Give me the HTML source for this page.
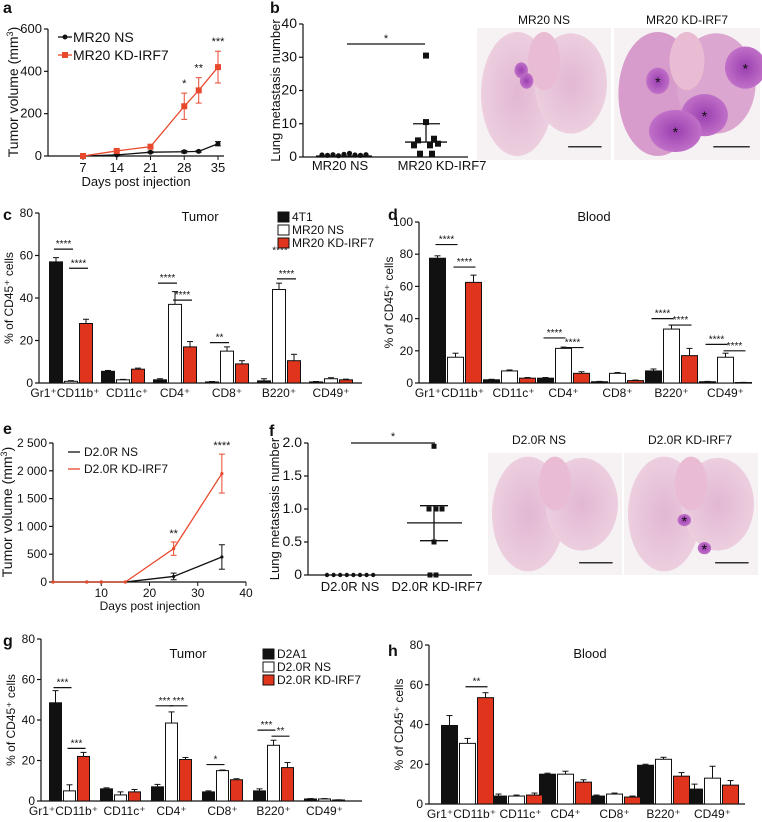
<!DOCTYPE html>
<html><head><meta charset="utf-8"><style>
html,body{margin:0;padding:0;background:#fff;}
svg{display:block;font-family:"Liberation Sans",Arial,sans-serif;}
</style></head><body>
<svg id="fig" width="762" height="822" viewBox="0 0 762 822" xmlns="http://www.w3.org/2000/svg">
<defs>
<radialGradient id="lungg" cx="50%" cy="50%" r="60%"><stop offset="0" stop-color="#e2b7d2"/><stop offset="1" stop-color="#eed3e2"/></radialGradient>
<radialGradient id="tum" cx="50%" cy="50%" r="50%"><stop offset="0" stop-color="#9b3fb0"/><stop offset="1" stop-color="#c070c8"/></radialGradient>
</defs>
<g id="root"></g>
</svg>
<script>
// ===== data =====
const aDays=[7,14,21,28,31,35];
const aNS=[0,5,18,20,22,58];
const aNSerr=[1,3,4,6,4,10];
const aKD=[0,24,44,235,310,420];
const aKDerr=[2,4,6,62,60,75];
const aStars=['','','','*','**','***'];
const bNS=[0.3,0.2,0.4,0.1,0.5,0.8,0.3,0.2,0.4];
const bKD=[30.5,10.5,5,5.5,3.5,3.5,1,1,4];
const cats=['Gr1\u207aCD11b\u207a','CD11c\u207a','CD4\u207a','CD8\u207a','B220\u207a','CD49\u207a'];
const cBlack=[57,5.5,1.5,0.5,1,0.5], cBlackErr=[2,0.4,0.5,0.2,1,0.2];
const cWhite=[0.8,1.5,37,15,44,2], cWhiteErr=[0.3,0.2,6,2,3,0.5];
const cRed=[28,6.5,17,9,10.5,1.5], cRedErr=[2,0.5,2.5,1.5,3,0.3];
const dBlack=[77.5,2,3,0.8,7.5,0.8], dBlackErr=[1.5,0.3,0.4,0.2,1.2,0.2];
const dWhite=[16,7.5,21.5,6,33.5,16], dWhiteErr=[2.5,0.6,0.8,0.5,2.5,2.5];
const dRed=[62.5,3,6,1.5,17,0.3], dRedErr=[4.5,0.4,1,0.3,4.5,0.1];
const eDays=[0,7,10,15,25,35];
const eNS=[0,0,0,0,100,450], eNSerr=[0,0,0,0,60,220];
const eKD=[0,0,0,0,600,1950], eKDerr=[0,0,0,0,120,350];
const fNS=[0,0,0,0,0,0,0,0];
const fKD=[1.95,1,1,1,0.5,0,0];
const gBlack=[48.5,6,7,4.5,5,1], gBlackErr=[6,0.5,1.2,0.5,1,0.2];
const gWhite=[5,3,38.5,15,27.5,1], gWhiteErr=[3,1.5,5.5,0.3,2.5,0.2];
const gRed=[22,4.5,20.5,10.5,16.5,0.5], gRedErr=[2,1.2,1,0.5,2.5,0.1];
const hBlack=[39.5,4,15,4,19.5,7.5], hBlackErr=[5,1,0.5,0.5,0.5,2.5];
const hWhite=[30.5,4,15,5,22.5,13], hWhiteErr=[2.5,0.5,1.5,0.5,1,6];
const hRed=[53.5,4.5,11,3.5,14,9.5], hRedErr=[2.5,1,1.2,0.5,1.8,2.3];
const cSig=[[0,0,1,63,'****'],[0,1,2,54,'****'],[2,0,1,47,'****'],[2,1,2,39,'****'],[3,0,1,19,'**'],[4,1,2,49,'****']];
const dSig=[[0,0,1,86,'****'],[0,1,2,72,'****'],[2,0,1,28,'****'],[2,1,2,22,'****'],[4,0,1,40,'****'],[4,1,2,36,'****'],[5,0,1,24,'****'],[5,1,2,20,'****']];
const gSig=[[0,0,1,56,'***'],[0,1,2,26,'***'],[2,0,1,47,'***'],[2,1,2,47,'***'],[3,0,1,18,'*'],[4,0,1,35,'***'],[4,1,2,32,'**']];
const hSig=[[0,1,2,59,'**']];

const NS='http://www.w3.org/2000/svg';
const root=document.getElementById('root');
const RED='#e0341c', LRED='#e8492d';
function el(tag,attrs,parent,text){const e=document.createElementNS(NS,tag);for(const k in attrs)e.setAttribute(k,attrs[k]);if(text!==undefined)e.textContent=text;(parent||root).appendChild(e);return e;}
function lin(d0,d1,r0,r1){return v=>r0+(v-d0)/(d1-d0)*(r1-r0);}
function txt(x,y,s,size,anchor,parent,extra){const t=el('text',Object.assign({x:x,y:y,'font-size':size,'text-anchor':anchor||'middle',fill:'#111'},extra||{}),parent,s);return t;}
function panelLabel(x,y,s){const t=txt(x,y,s,16,'start',root,{'font-weight':'bold'});}

function yAxis(g,x,y0,y1,ticks,sy,label,lx,fs,tfs){
  el('line',{x1:x,x2:x,y1:y0,y2:y1,stroke:'#111','stroke-width':1.2},g);
  ticks.forEach(t=>{const y=sy(t.v);el('line',{x1:x-4,x2:x,y1:y,y2:y,stroke:'#111','stroke-width':1.2},g);txt(x-6,y+4,t.l,fs||12,'end',g);});
  if(label){const yt=txt(lx,(y0+y1)/2,label,tfs||fs||12,'middle',g,{transform:'rotate(-90 '+lx+' '+((y0+y1)/2)+')'});
  }
}

// ===== panel a =====
(function(){
  const g=el('g',{});
  panelLabel(3,13,'a');
  const sx=lin(7,35,83,218), sy=lin(0,600,156,29);
  yAxis(g,48,156,29,[0,200,400,600].map(v=>({v:v,l:String(v)})),sy,'',0,13);
  const yl=txt(18,92,'Tumor volume (mm',14,'middle',g,{transform:'rotate(-90 18 92)'});
  el('tspan',{'font-size':9,dy:-5},yl,'3');el('tspan',{dy:5},yl,')');
  el('line',{x1:48,x2:224,y1:156,y2:156,stroke:'#111','stroke-width':1.2},g);
  [7,14,21,28,35].forEach(d=>{el('line',{x1:sx(d),x2:sx(d),y1:156,y2:160,stroke:'#111'},g);txt(sx(d),172,String(d),13,'middle',g);});
  txt(136,186,'Days post injection',13,'middle',g);
  function series(vals,errs,col,square,nm){
    let p='';vals.forEach((v,i)=>{p+=(i?'L':'M')+sx(aDays[i])+' '+sy(v);});
    const l=el('path',{d:p,fill:'none',stroke:col,'stroke-width':1.3},g);
    vals.forEach((v,i)=>{const x=sx(aDays[i]);
      if(errs[i]>2){el('line',{x1:x,x2:x,y1:sy(v-errs[i]),y2:sy(v+errs[i]),stroke:col},g);[v-errs[i],v+errs[i]].forEach(e=>el('line',{x1:x-3,x2:x+3,y1:sy(e),y2:sy(e),stroke:col},g));}
      const m=square?el('rect',{x:x-3,y:sy(v)-3,width:6,height:6,fill:col},g):el('circle',{cx:x,cy:sy(v),r:2.5,fill:col},g);
      });
  }
  series(aNS,aNSerr,'#111',false,'mr20-ns');
  series(aKD,aKDerr,LRED,true,'mr20-kd-irf7');
  aStars.forEach((s,i)=>{if(s)txt(sx(aDays[i]),sy(aKD[i]+aKDerr[i])-6,s,11,'middle',g);});
  const lg=el('g',{},g);
  el('line',{x1:58,x2:72,y1:37,y2:37,stroke:'#111','stroke-width':1.3},lg);el('circle',{cx:65,cy:37,r:2.5,fill:'#111'},lg);txt(73,42,'MR20 NS',14,'start',lg);
  el('line',{x1:58,x2:72,y1:55,y2:55,stroke:LRED,'stroke-width':1.3},lg);el('rect',{x:62,y:52,width:6,height:6,fill:LRED},lg);txt(73,60,'MR20 KD-IRF7',14,'start',lg);
})();

// ===== panel b =====
(function(){
  const g=el('g',{});
  panelLabel(270,13,'b');
  const sy=lin(0,40,157,24);
  yAxis(g,303,157,24,[0,10,20,30,40].map(v=>({v:v,l:String(v)})),sy,'Lung metastasis number',280,14,13);
  el('line',{x1:303,x2:468,y1:157,y2:157,stroke:'#111','stroke-width':1.2},g);
  txt(340,170,'MR20 NS',13,'middle',g);txt(442,170,'MR20 KD-IRF7',13,'middle',g);
  bNS.forEach((v,i)=>{const c=el('circle',{cx:322+i*5.5,cy:sy(v)-1,r:2.6,fill:'#111'},g);});
  const offs=[0,0,-8,8,-12,4,-6,6,12];
  bKD.forEach((v,i)=>{const x=426+offs[i];const r=el('rect',{x:x-3,y:sy(v)-3,width:6,height:6,fill:'#111'},g);});
  el('line',{x1:405,x2:447,y1:sy(4.5),y2:sy(4.5),stroke:'#111','stroke-width':1.3},g);
  el('line',{x1:426,x2:426,y1:sy(4.5),y2:sy(10),stroke:'#111','stroke-width':1.3},g);
  el('line',{x1:413,x2:440,y1:sy(10),y2:sy(10),stroke:'#111','stroke-width':1.3},g);
  el('line',{x1:316,x2:372,y1:sy(0.3),y2:sy(0.3),stroke:'#111','stroke-width':1.3},g);
  el('line',{x1:347,x2:425,y1:44,y2:44,stroke:'#111','stroke-width':1.2},g);txt(386,42,'*',11,'middle',g);
})();

// ===== lung images =====
function lung(x,y,w,h,blobs,nm,dark){
  const g=el('g',{});
  el('rect',{x:x,y:y,width:w,height:h,fill:'#f6f2f4'},g);
  el('ellipse',{cx:x+w*0.3,cy:y+h*0.5,rx:w*0.27,ry:h*0.47,fill:dark?'#d79ccb':'url(#lungg)'},g);
  el('ellipse',{cx:x+w*0.7,cy:y+h*0.42,rx:w*0.27,ry:h*0.38,fill:dark?'#dba6cf':'url(#lungg)'},g);
  el('ellipse',{cx:x+w*0.5,cy:y+h*0.25,rx:w*0.12,ry:h*0.22,fill:'#e9bcd3'},g);
  blobs.forEach(b=>{el('ellipse',{cx:x+b[0]*w,cy:y+b[1]*h,rx:b[2]*w,ry:b[3]*h,fill:'url(#tum)'},g);if(b[4])txt(x+b[0]*w,y+b[1]*h+6,'*',14,'middle',g);});
  el('line',{x1:x+w*0.68,x2:x+w*0.93,y1:y+h*0.9,y2:y+h*0.9,stroke:'#333','stroke-width':1.5},g);
}
txt(544,24,'MR20 NS',12,'middle');txt(687,24,'MR20 KD-IRF7',12,'middle');
lung(477,28,134,132,[[0.33,0.32,0.05,0.06,0],[0.37,0.4,0.05,0.06,0]],'lung-image-mr20-ns',false);
lung(614,28,146,132,[[0.9,0.3,0.14,0.16,1],[0.62,0.66,0.16,0.16,1],[0.42,0.78,0.18,0.16,1],[0.3,0.4,0.08,0.1,1]],'lung-image-mr20-kd',true);
txt(539,444,'D2.0R NS',12,'middle');txt(690,444,'D2.0R KD-IRF7',12,'middle');
lung(488,453,134,122,[],'lung-image-d20r-ns',false);
lung(624,453,134,122,[[0.45,0.55,0.05,0.05,1],[0.6,0.78,0.05,0.05,1]],'lung-image-d20r-kd',false);

// ===== bar chart helper =====
function barChart(o){
  const g=el('g',{});
  const sy=lin(0,o.max,o.y0,o.y1);
  yAxis(g,o.x0,o.y0,o.y1,o.ticks.map(v=>({v:v,l:String(v)})),sy,'% of CD45\u207a cells',o.x0-26,12);
  el('line',{x1:o.x0,x2:o.xEnd,y1:o.y0,y2:o.y0,stroke:'#111','stroke-width':1.2},g);
  const series=[[o.k,o.ke,'#111','black'],[o.w,o.we,'#fff','white'],[o.r,o.re,RED,'red']];
  const bx=(gi,si)=>o.start+gi*o.step+si*(o.bw+1);
  series.forEach((s,si)=>{s[0].forEach((v,gi)=>{
    const x=bx(gi,si),yv=sy(v);
    const top=sy(v+s[1][gi]);
    el('line',{x1:x+o.bw/2,x2:x+o.bw/2,y1:yv,y2:top,stroke:'#111','stroke-width':1},g);
    el('line',{x1:x+o.bw/2-3,x2:x+o.bw/2+3,y1:top,y2:top,stroke:'#111','stroke-width':1},g);
    const r=el('rect',{x:x+0.5,y:yv,width:o.bw-1,height:Math.max(0.5,o.y0-yv),fill:s[2],stroke:'#111','stroke-width':1},g);
    
  });});
  cats.forEach((c,gi)=>{const cx=o.start+gi*o.step+(3*o.bw+2)/2;txt(cx+(gi===0?-6:gi===1?4:0),o.y0+14,c,12,'middle',g);});
  o.sig.forEach(s=>{const xa=bx(s[0],s[1])+o.bw/2-2,xb=bx(s[0],s[2])+o.bw/2+2,y=sy(s[3]);
    el('line',{x1:xa,x2:xb,y1:y,y2:y,stroke:'#111','stroke-width':1.2},g);txt((xa+xb)/2,y-2,s[4],10,'middle',g);});
  if(o.extraStar)txt(o.extraStar[0],sy(o.extraStar[1]),o.extraStar[2],10,'middle',g);
  txt(o.title[0],o.title[1],o.title[2],13,'middle',g);
  if(o.legend){const lg=el('g',{},g);
    o.legend.forEach((t,i)=>{const y=o.lx[1]+i*13;el('rect',{x:o.lx[0],y:y-9,width:11,height:10,fill:['#111','#fff',RED][i],stroke:'#111'},lg);txt(o.lx[0]+14,y,t,12,'start',lg);});}
}
panelLabel(3,220,'c');
barChart({name:'panel-c-tumor',x0:39,xEnd:362,y0:383,y1:213,max:80,ticks:[0,20,40,60,80],start:49,step:52,bw:14,k:cBlack,ke:cBlackErr,w:cWhite,we:cWhiteErr,r:cRed,re:cRedErr,sig:cSig,extraStar:[280,61,'****'],title:[200,221,'Tumor'],legend:['4T1','MR20 NS','MR20 KD-IRF7'],lx:[278,221]});
panelLabel(388,220,'d');
barChart({name:'panel-d-blood',x0:419,xEnd:752,y0:383,y1:222,max:100,ticks:[0,20,40,60,80,100],start:429,step:54,bw:17,k:dBlack,ke:dBlackErr,w:dWhite,we:dWhiteErr,r:dRed,re:dRedErr,sig:dSig,title:[594,221,'Blood']});
panelLabel(3,646,'g');
barChart({name:'panel-g-tumor',x0:41,xEnd:362,y0:801,y1:639,max:80,ticks:[0,20,40,60,80],start:49,step:51,bw:13,k:gBlack,ke:gBlackErr,w:gWhite,we:gWhiteErr,r:gRed,re:gRedErr,sig:gSig,title:[188,658,'Tumor'],legend:['D2A1','D2.0R NS','D2.0R KD-IRF7'],lx:[263,658]});
panelLabel(388,656,'h');
barChart({name:'panel-h-blood',x0:429,xEnd:745,y0:804,y1:645,max:80,ticks:[0,20,40,60,80],start:441,step:49,bw:17,k:hBlack,ke:hBlackErr,w:hWhite,we:hWhiteErr,r:hRed,re:hRedErr,sig:hSig,title:[590,658,'Blood']});

// ===== panel e =====
(function(){
  const g=el('g',{});
  panelLabel(3,434,'e');
  const sx=lin(0,40,53,246), sy=lin(0,2500,582,443);
  yAxis(g,53,582,443,[0,500,1000,1500,2000,2500].map(v=>({v:v,l:v>=1000?String(v).replace(/(\d)(\d{3})$/,'$1 $2'):String(v)})),sy,'',0,12);
  const yl=txt(12,512,'Tumor volume (mm',14,'middle',g,{transform:'rotate(-90 12 512)'});
  el('tspan',{'font-size':9,dy:-5},yl,'3');el('tspan',{dy:5},yl,')');
  el('line',{x1:53,x2:246,y1:582,y2:582,stroke:'#111','stroke-width':1.2},g);
  [10,20,30,40].forEach(d=>{el('line',{x1:sx(d),x2:sx(d),y1:582,y2:586,stroke:'#111'},g);txt(sx(d),597,String(d),12,'middle',g);});
  txt(150,610,'Days post injection',12,'middle',g);
  function s(vals,errs,col,nm){let p='';vals.forEach((v,i)=>{p+=(i?'L':'M')+sx(eDays[i])+' '+sy(v);});
    const l=el('path',{d:p,fill:'none',stroke:col,'stroke-width':1.3},g);
    vals.forEach((v,i)=>{const x=sx(eDays[i]);if(errs[i]){el('line',{x1:x,x2:x,y1:sy(v-errs[i]),y2:sy(v+errs[i]),stroke:col},g);[v-errs[i],v+errs[i]].forEach(e=>el('line',{x1:x-3,x2:x+3,y1:sy(e),y2:sy(e),stroke:col},g));}
      el('circle',{cx:x,cy:sy(v),r:1.6,fill:col},g);});}
  s(eNS,eNSerr,'#111','d20r-ns');s(eKD,eKDerr,LRED,'d20r-kd-irf7');
  txt(sx(25),sy(eKD[4]+eKDerr[4])-5,'**',11,'middle',g);txt(sx(35),sy(eKD[5]+eKDerr[5])-5,'****',11,'middle',g);
  const lg=el('g',{},g);
  el('line',{x1:68,x2:80,y1:452,y2:452,stroke:'#111','stroke-width':1.3},lg);txt(84,456,'D2.0R NS',12,'start',lg);
  el('line',{x1:68,x2:80,y1:469,y2:469,stroke:LRED,'stroke-width':1.3},lg);txt(84,473,'D2.0R KD-IRF7',12,'start',lg);
})();

// ===== panel f =====
(function(){
  const g=el('g',{});
  panelLabel(269,436,'f');
  const sy=lin(0,2,575,443);
  yAxis(g,308,575,443,[0,0.5,1,1.5,2].map(v=>({v:v,l:v===0?'0':v.toFixed(1)})),sy,'Lung metastasis number',279,14,13);
  el('line',{x1:308,x2:472,y1:575,y2:575,stroke:'#111','stroke-width':1.2},g);
  txt(350,591,'D2.0R NS',13,'middle',g);txt(437,591,'D2.0R KD-IRF7',13,'middle',g);
  fNS.forEach((v,i)=>{const c=el('circle',{cx:327+i*6.6,cy:sy(v),r:2.2,fill:'#111'},g);});
  const offs=[0,-5,2,8,0,-4,2];
  fKD.forEach((v,i)=>{const r=el('rect',{x:434+offs[i]-2.5,y:sy(v)-2.5,width:5,height:5,fill:'#111'},g);});
  const m=0.79;el('line',{x1:407,x2:462,y1:sy(m),y2:sy(m),stroke:'#111','stroke-width':1.3},g);
  el('line',{x1:434,x2:434,y1:sy(0.52),y2:sy(1.05),stroke:'#111','stroke-width':1.3},g);
  el('line',{x1:420,x2:448,y1:sy(1.05),y2:sy(1.05),stroke:'#111','stroke-width':1.3},g);
  el('line',{x1:420,x2:448,y1:sy(0.52),y2:sy(0.52),stroke:'#111','stroke-width':1.3},g);
  el('line',{x1:351,x2:435,y1:sy(2),y2:sy(2),stroke:'#111','stroke-width':1.2},g);txt(393,sy(2)-3,'*',11,'middle',g);
})();
</script>
</body></html>
